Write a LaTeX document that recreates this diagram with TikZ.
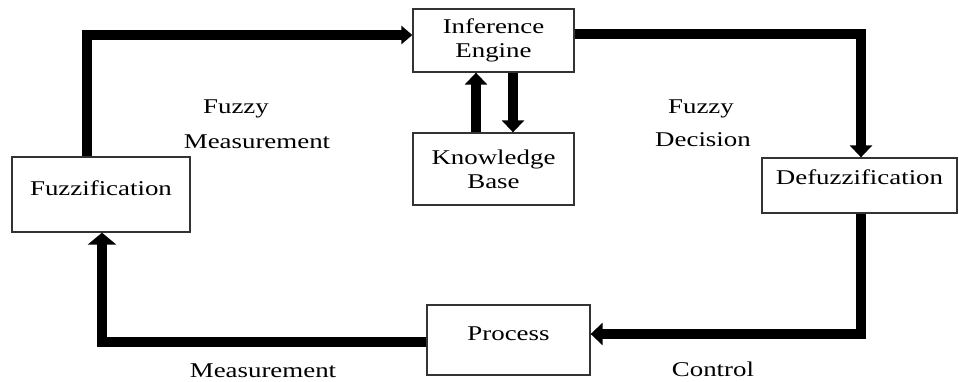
\documentclass[tikz,border=0pt]{standalone}
\usepackage{fontspec}
\setmainfont{Liberation Serif}
\usetikzlibrary{arrows.meta}
\newcommand\hs[1]{\scalebox{1.28}[1]{#1}}
\begin{document}
\begin{tikzpicture}[x=1pt,y=-1pt,
  box/.style={draw=black!80, line width=1.3pt, rectangle, inner sep=0pt, font=\fontsize{21}{24}\selectfont},
  twoline/.style={box, align=center},
  flow/.style={line width=9.5pt, -{Triangle[length=12pt,width=22pt]}},
  lbl/.style={font=\fontsize{21}{24}\selectfont, anchor=base, inner sep=0pt}]
\useasboundingbox (0,0) rectangle (959,381);

\node[twoline, minimum width=161pt, minimum height=63pt] (ie) at (493.5,40.5) {\hs{Inference}\\\hs{Engine}};
\node[twoline, minimum width=161pt, minimum height=72pt] (kb) at (493.5,169) {\hs{Knowledge}\\\hs{Base}};
\node[box, minimum width=178pt, minimum height=75pt, text height=14pt, text depth=13pt] (fz) at (101,194.5) {\hs{Fuzzification}};
\node[box, minimum width=195pt, minimum height=55pt, text height=14pt, text depth=17pt] (df) at (859.5,185.5) {\hs{Defuzzification}};
\node[box, minimum width=163pt, minimum height=70pt, text height=14pt, text depth=14pt] (pr) at (508.5,340) {\hs{Process}};

\coordinate (c1) at (87,35);
\coordinate (c2) at (861,34);
\coordinate (c3) at (861,334);
\coordinate (c4) at (102,342);
\coordinate (cu) at (476,100);
\coordinate (cd) at (513,100);

\draw[flow, -{Triangle[length=11pt,width=18pt]}] (fz.north -| c1) |- (ie.west |- c1);
\draw[flow] (ie.east |- c2) -| (df.north -| c2);
\draw[flow] (df.south -| c3) |- (pr.east |- c3);
\draw[flow, -{Triangle[length=12pt,width=28pt]}] (pr.west |- c4) -| (fz.south -| c4);
\draw[flow] (kb.north -| cu) -- (ie.south -| cu);
\draw[flow] (ie.south -| cd) -- (kb.north -| cd);

\node[lbl] (l1) at (236,113) {\hs{Fuzzy}};
\node[lbl] (l2) at (257,148) {\hs{Measurement}};
\node[lbl] (l3) at (701,113) {\hs{Fuzzy}};
\node[lbl] (l4) at (703,146) {\hs{Decision}};
\node[lbl] (l5) at (263,377) {\hs{Measurement}};
\node[lbl] (l6) at (713,376) {\hs{Control}};
\end{tikzpicture}
\end{document}
